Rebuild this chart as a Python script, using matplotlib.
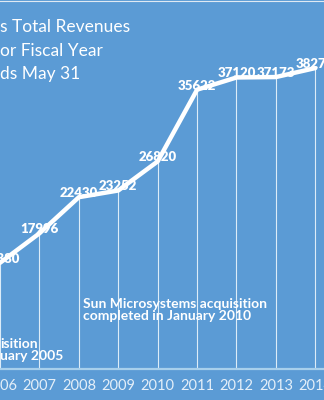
import matplotlib
matplotlib.use("Agg")
import matplotlib.pyplot as plt
from matplotlib.lines import Line2D

# fiscal years and total revenues (USD millions)
years = [2006, 2007, 2008, 2009, 2010, 2011, 2012, 2013, 2014]
revenues = [14380, 17996, 22430, 23252, 26820, 35622, 37120, 37173, 38275]
year_labels = [str(y) for y in years]

title_lines = ["s Total Revenues", "or Fiscal Year", "ds May 31"]
sun_note = "Sun Microsystems acquisition\ncompleted in January 2010"
ps_note = "isition\nuary 2005"

BG = "#5b9bd5"
plt.rcParams["font.family"] = ["Lato", "DejaVu Sans"]

fig = plt.figure(figsize=(3.24, 4.0), dpi=100, facecolor=BG)
ax = fig.add_axes([0, 0.0775, 1, 0.9225], facecolor=BG)

ax.plot(years, revenues, color="white", lw=3.2, solid_joinstyle="round",
        solid_capstyle="round", zorder=3)
ax.vlines(years, 1350, revenues, color="#dcecf8", lw=0.8, zorder=2)

for x, v in zip(years, revenues):
    ax.annotate(f"{v}", (x, v), xytext=(0, 3), textcoords="offset points",
                ha="center", va="center", color="white", fontsize=9.5,
                fontweight="heavy", zorder=4)

ax.set_xlim(2006.17, 2014.22)
ax.set_ylim(1350, 46626)
ax.set_xticks(years)
ax.set_xticklabels(year_labels, color="#e4eff9", fontsize=10.5)
ax.tick_params(axis="x", length=0, pad=7)
ax.set_yticks([])
for side in ["left", "right", "top"]:
    ax.spines[side].set_visible(False)
ax.spines["bottom"].set_color("#a8d0ec")
ax.spines["bottom"].set_linewidth(1.6)

# chart title (cut off on the left in the reference)
for i, line in enumerate(title_lines):
    fig.text(0.0, 1 - (27 + 23.5 * i) / 400, line, color="white",
             fontsize=12.5, ha="left", va="center")

fig.text(83 / 324, 1 - 310 / 400, sun_note, color="white", fontsize=10,
         fontweight="bold", ha="left", va="center", linespacing=1.05)
fig.text(0.0, 1 - 350 / 400, ps_note, color="white", fontsize=10,
         fontweight="bold", ha="left", va="center", linespacing=1.05)

fig.add_artist(Line2D([0, 1], [0.997, 0.997], color="#dfe9f3", lw=0.8))

fig.savefig("out.png", dpi=100, facecolor=BG)
